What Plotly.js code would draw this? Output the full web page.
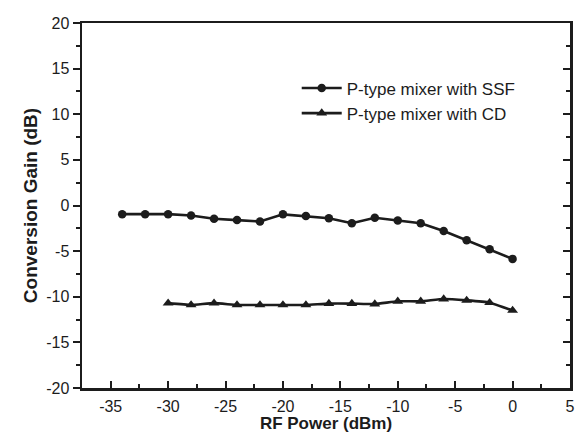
<!DOCTYPE html>
<html>
<head>
<meta charset="utf-8">
<script src="https://cdn.plot.ly/plotly-3.0.1.min.js"></script>
<style>html,body{margin:0;padding:0;background:#fff;}#chart{width:582px;height:433px;}</style>
</head>
<body>
<div id="chart"></div>
<script>
const ssfPower = [-34,-32,-30,-28,-26,-24,-22,-20,-18,-16,-14,-12,-10,-8,-6,-4,-2,0];
const ssfGain  = [-0.95,-0.95,-0.95,-1.1,-1.45,-1.6,-1.75,-0.97,-1.15,-1.4,-1.95,-1.35,-1.65,-1.95,-2.8,-3.8,-4.8,-5.85];
const cdPower = [-30,-28,-26,-24,-22,-20,-18,-16,-14,-12,-10,-8,-6,-4,-2,0];
const cdGain  = [-10.7,-10.9,-10.7,-10.9,-10.9,-10.9,-10.9,-10.75,-10.75,-10.8,-10.5,-10.5,-10.25,-10.4,-10.65,-11.5];
const seriesNames = ['P-type mixer with SSF','P-type mixer with CD'];
const xTickVals = [-35,-30,-25,-20,-15,-10,-5,0,5];
const xTickText = ['-35','-30','-25','-20','-15','-10','-5','0','5'];
const yTickVals = [-20,-15,-10,-5,0,5,10,15,20];
const yTickText = ['-20','-15','-10','-5','0','5','10','15','20'];
const xTitle = 'RF Power (dBm)';
const yTitle = 'Conversion Gain (dB)';

const ink = '#1c1c1c';
const font = 'Liberation Sans, Arial, sans-serif';

const traces = [
  {x: ssfPower, y: ssfGain, name: seriesNames[0], mode: 'lines+markers',
   line: {color: ink, width: 2.6}, marker: {symbol: 'circle', size: 8.5, color: ink}},
  {x: cdPower, y: cdGain, name: seriesNames[1], mode: 'lines+markers',
   line: {color: ink, width: 2.6, shape: 'spline', smoothing: 0.4}, marker: {symbol: 'triangle-up', size: 9.5, color: ink}},
  {x: [null], y: [null], yaxis: 'y2', showlegend: false, hoverinfo: 'skip'}
];

const layout = {
  width: 582, height: 433,
  margin: {l: 82, r: 12, t: 23, b: 45},
  paper_bgcolor: '#fff', plot_bgcolor: '#fff',
  font: {family: font, color: ink, size: 16},
  showlegend: true,
  legend: {x: 0.44, y: 0.87, xanchor: 'left', yanchor: 'top', bgcolor: 'rgba(0,0,0,0)',
           font: {size: 17, family: font, color: ink}, itemwidth: 40},
  xaxis: {
    range: [-37.5, 5], tickmode: 'array', tickvals: xTickVals, ticktext: xTickText,
    ticks: 'inside', ticklen: 7, tickwidth: 2, tickcolor: ink,
    minor: {dtick: 2.5, tick0: 0, ticks: 'inside', ticklen: 4, tickwidth: 2, tickcolor: ink, showgrid: false},
    showline: true, linewidth: 2.5, linecolor: ink, mirror: true, showgrid: false, zeroline: false,
    ticklabelstandoff: 2,
    tickfont: {size: 16, family: font, color: ink},
    title: {text: xTitle, font: {size: 17, family: font, color: ink, weight: 'bold'}, standoff: 0}
  },
  yaxis: {
    range: [-20, 20], tickmode: 'array', tickvals: yTickVals, ticktext: yTickText,
    ticks: 'outside', ticklen: 7, tickwidth: 2, tickcolor: ink,
    minor: {dtick: 2.5, tick0: 0, ticks: 'outside', ticklen: 4, tickwidth: 2, tickcolor: ink, showgrid: false},
    showline: true, linewidth: 2.5, linecolor: ink, showgrid: false, zeroline: false,
    tickfont: {size: 16, family: font, color: ink},
    title: {text: yTitle, font: {size: 19, family: font, color: ink, weight: 'bold'}, standoff: 4}
  },
  yaxis2: {
    overlaying: 'y', side: 'right', range: [-20, 20], dtick: 5, ticks: 'inside', ticklen: 7, tickwidth: 2, tickcolor: ink,
    minor: {dtick: 2.5, ticks: 'inside', ticklen: 4, tickwidth: 2, tickcolor: ink, showgrid: false},
    showline: true, linewidth: 2.5, linecolor: ink, showticklabels: false, showgrid: false, zeroline: false
  }
};

Plotly.newPlot('chart', traces, layout, {displayModeBar: false, staticPlot: true});
</script>
</body>
</html>
